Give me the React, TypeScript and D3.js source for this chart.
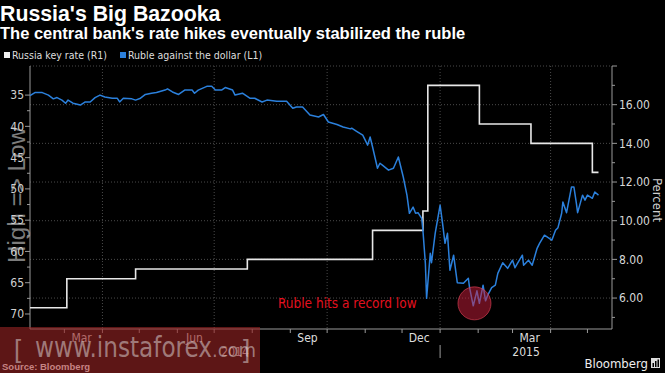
import React from 'react'
import * as d3 from 'd3'

// chart values
const rubleSeries: [string, number][] = [
  ['2014-02-01', 35.1], ['2014-02-05', 34.6], ['2014-02-11', 34.6], ['2014-02-16', 35.0],
  ['2014-02-20', 35.6], ['2014-02-23', 35.4], ['2014-02-27', 35.8], ['2014-03-02', 36.3],
  ['2014-03-04', 35.8], ['2014-03-08', 36.3], ['2014-03-14', 36.6], ['2014-03-18', 36.1],
  ['2014-03-22', 36.1], ['2014-03-26', 35.4], ['2014-03-30', 35.0], ['2014-04-03', 35.3],
  ['2014-04-09', 35.5], ['2014-04-13', 35.5], ['2014-04-15', 36.1], ['2014-04-18', 35.5],
  ['2014-04-25', 35.6], ['2014-04-28', 35.8], ['2014-05-02', 35.5], ['2014-05-06', 34.9],
  ['2014-05-11', 34.7], ['2014-05-15', 34.6], ['2014-05-22', 34.2], ['2014-05-24', 34.0],
  ['2014-05-28', 34.5], ['2014-06-02', 34.9], ['2014-06-07', 34.2], ['2014-06-13', 34.2],
  ['2014-06-15', 34.7], ['2014-06-18', 34.2], ['2014-06-25', 33.6], ['2014-06-29', 33.6],
  ['2014-07-02', 34.2], ['2014-07-07', 34.2], ['2014-07-10', 33.8], ['2014-07-16', 34.2],
  ['2014-07-18', 35.0], ['2014-07-24', 34.7], ['2014-07-30', 35.5], ['2014-08-03', 35.5],
  ['2014-08-09', 36.1], ['2014-08-13', 35.8], ['2014-08-21', 36.0], ['2014-08-29', 36.0],
  ['2014-09-03', 37.1], ['2014-09-06', 36.9], ['2014-09-11', 36.9], ['2014-09-17', 38.2],
  ['2014-09-24', 38.5], ['2014-09-28', 38.1], ['2014-10-02', 39.3], ['2014-10-09', 39.7],
  ['2014-10-14', 40.1], ['2014-10-20', 40.4], ['2014-10-21', 40.3], ['2014-10-25', 40.8],
  ['2014-10-30', 41.4], ['2014-11-03', 43.0], ['2014-11-05', 41.7], ['2014-11-07', 43.3],
  ['2014-11-11', 46.7], ['2014-11-13', 45.9], ['2014-11-15', 46.2], ['2014-11-20', 47.0],
  ['2014-11-24', 46.7], ['2014-11-28', 44.9], ['2014-12-02', 48.1], ['2014-12-05', 51.0],
  ['2014-12-07', 53.9], ['2014-12-10', 52.9], ['2014-12-12', 53.9], ['2014-12-14', 53.8],
  ['2014-12-17', 54.7], ['2014-12-18', 56.6], ['2014-12-20', 61.9], ['2014-12-21', 67.5],
  ['2014-12-24', 60.3], ['2014-12-25', 61.8], ['2014-12-28', 57.1], ['2015-01-01', 52.6],
  ['2015-01-03', 55.5], ['2015-01-05', 58.7], ['2015-01-07', 57.1], ['2015-01-09', 63.0],
  ['2015-01-12', 60.6], ['2015-01-15', 65.0], ['2015-01-20', 65.1], ['2015-01-24', 64.3],
  ['2015-01-25', 65.8], ['2015-01-28', 68.7], ['2015-01-31', 66.3], ['2015-02-02', 68.3],
  ['2015-02-05', 65.4], ['2015-02-07', 67.9], ['2015-02-09', 66.9], ['2015-02-12', 65.8],
  ['2015-02-15', 65.4], ['2015-02-17', 63.5], ['2015-02-21', 61.8], ['2015-02-25', 62.7],
  ['2015-03-01', 61.4], ['2015-03-03', 62.6], ['2015-03-05', 61.9], ['2015-03-09', 60.6],
  ['2015-03-10', 62.2], ['2015-03-14', 61.4], ['2015-03-17', 62.2], ['2015-03-21', 59.5],
  ['2015-03-23', 58.7], ['2015-03-27', 57.4], ['2015-03-30', 57.8], ['2015-04-02', 58.2],
  ['2015-04-05', 56.6], ['2015-04-07', 56.2], ['2015-04-10', 53.9], ['2015-04-11', 52.1],
  ['2015-04-14', 53.8], ['2015-04-18', 49.7], ['2015-04-20', 49.7], ['2015-04-22', 52.3],
  ['2015-04-23', 53.8], ['2015-04-27', 51.0], ['2015-04-29', 51.8], ['2015-05-01', 51.0],
  ['2015-05-05', 51.5], ['2015-05-07', 50.5], ['2015-05-10', 51.0],
]

const keyRateSeries: [string, number][] = [
  ['2014-02-01', 5.5], ['2014-03-03', 7.0], ['2014-04-28', 7.5], ['2014-07-28', 8.0],
  ['2014-11-07', 9.5], ['2014-12-18', 10.5], ['2014-12-22', 17.0], ['2015-02-02', 15.0],
  ['2015-03-16', 14.0], ['2015-05-05', 12.5], ['2015-05-10', 12.5],
]

const leftTicks = [35, 40, 45, 50, 55, 60, 65, 70]
const leftMinor = [37.5, 42.5, 47.5, 52.5, 57.5, 62.5, 67.5]
const rightTicks = [6, 8, 10, 12, 14, 16]
const rightMinor = [5, 7, 9, 11, 13, 15, 17]
const monthLabels: [string, string][] = [
  ['2014-03-15', 'Mar'], ['2014-06-15', 'Jun'], ['2014-09-15', 'Sep'],
  ['2014-12-15', 'Dec'], ['2015-03-15', 'Mar'],
]
const quarterLines = ['2014-04-01', '2014-07-01', '2014-10-01', '2015-01-01', '2015-04-01']

const NARROW = "'Liberation Sans Narrow', 'DejaVu Sans Condensed', 'Liberation Sans', sans-serif"
const SANS = "'Liberation Sans', Arial, sans-serif"

const W = 665
const H = 373
const left = 30
const right = 612
const top = 66
const bottom = 329

const parse = d3.timeParse('%Y-%m-%d')

export default function App() {
  const x = d3.scaleTime()
    .domain([parse('2014-02-01')!, parse('2015-05-21')!])
    .range([left, right])
  const yL = d3.scaleLinear().domain([30.35, 72.4]).range([top, bottom])
  const yR = d3.scaleLinear().domain([4.4, 18]).range([bottom, top])

  const rubleLine = d3.line<[string, number]>()
    .x(d => x(parse(d[0])!))
    .y(d => yL(d[1]))
  const rateLine = d3.line<[string, number]>()
    .curve(d3.curveStepAfter)
    .x(d => x(parse(d[0])!))
    .y(d => yR(d[1]))

  const months = d3.timeMonth.range(parse('2014-02-02')!, parse('2015-05-21')!)
  const yearSplit = x(parse('2015-01-01')!)

  const circleX = x(parse('2015-01-29')!)
  const circleY = yL(68.3)

  return (
    <svg width={W} height={H} style={{position: 'absolute', left: 0, top: 0, display: 'block'}}>
      <rect width={W} height={H} fill="#000" />

      {/* titles */}
      <text x={0} y={21} fill="#fff" fontFamily={SANS} fontWeight="bold" fontSize={21.3}>Russia's Big Bazooka</text>
      <text x={0} y={39} fill="#fff" fontFamily={SANS} fontWeight="bold" fontSize={16.5}>
        The central bank's rate hikes eventually stabilized the ruble
      </text>

      {/* legend */}
      <rect x={4} y={52} width={6} height={6} fill="#f0f0f0" />
      <text x={12} y={58.5} fill="#ddd" fontFamily={NARROW} fontSize={10.5}>Russia key rate (R1)</text>
      <rect x={120} y={52} width={6} height={6} fill="#2b80dc" />
      <text x={128} y={58.5} fill="#ddd" fontFamily={NARROW} fontSize={10.5}>Ruble against the dollar (L1)</text>

      {/* grid */}
      {[...rightTicks, 18].map(t => (
        <line key={'h' + t} x1={left} x2={right} y1={yR(t)} y2={yR(t)}
          stroke="#4a4a4a" strokeDasharray="1,2" />
      ))}
      {quarterLines.map(d => (
        <line key={'v' + d} x1={x(parse(d)!)} x2={x(parse(d)!)} y1={top} y2={bottom}
          stroke="#4a4a4a" strokeDasharray="1,2" />
      ))}

      {/* left axis title */}
      <text transform={`translate(25,195) rotate(-90)`} textAnchor="middle" fill="#7c7c7c"
        fontFamily={SANS} fontSize={23} textLength={136} lengthAdjust="spacingAndGlyphs">High =&gt; Low</text>

      {/* axes */}
      <g stroke="#9a9a9a">
        <line x1={left} x2={left} y1={top} y2={bottom} />
        <line x1={left} x2={right} y1={bottom} y2={bottom} />
        <line x1={right} x2={right} y1={top} y2={bottom} />
        <line x1={right} x2={right + 5} y1={top} y2={top} />
        {leftTicks.map(t => <line key={'lt' + t} x1={left - 5} x2={left} y1={yL(t)} y2={yL(t)} />)}
        {leftMinor.map(t => <line key={'lm' + t} x1={left - 3} x2={left} y1={yL(t)} y2={yL(t)} />)}
        {rightTicks.map(t => <line key={'rt' + t} x1={right} x2={right + 5} y1={yR(t)} y2={yR(t)} />)}
        {rightMinor.map(t => <line key={'rm' + t} x1={right} x2={right + 3} y1={yR(t)} y2={yR(t)} />)}
        {months.map(m => <line key={'m' + +m} x1={x(m)} x2={x(m)} y1={bottom} y2={bottom + 4} />)}
        <line x1={yearSplit} x2={yearSplit} y1={345} y2={358} />
      </g>

      {leftTicks.map(t => (
        <text key={'ll' + t} x={left - 6} y={yL(t)} dy="0.35em" textAnchor="end" fill="#d0d0d0"
          fontFamily={NARROW} fontSize={12}>{t}</text>
      ))}
      {rightTicks.map(t => (
        <text key={'rl' + t} x={right + 7} y={yR(t)} dy="0.35em" fill="#d8d8d8"
          fontFamily={NARROW} fontSize={12}>{t.toFixed(2)}</text>
      ))}
      <text transform={`translate(653,200) rotate(90)`} textAnchor="middle" fill="#cfcfcf"
        fontFamily={NARROW} fontSize={13}>Percent</text>

      {monthLabels.map(([d, l]) => (
        <text key={'ml' + d} x={x(parse(d)!)} y={342} textAnchor="middle" fill="#ddd"
          fontFamily={NARROW} fontSize={12}>{l}</text>
      ))}
      <text x={(left + yearSplit) / 2} y={356} textAnchor="middle" fill="#ddd" fontFamily={NARROW} fontSize={12}>2014</text>
      <text x={(yearSplit + right) / 2} y={356} textAnchor="middle" fill="#ddd" fontFamily={NARROW} fontSize={12}>2015</text>

      {/* series */}
      <path d={rateLine(keyRateSeries)!} fill="none" stroke="#e8e8e8" strokeWidth={1.6} />
      <path d={rubleLine(rubleSeries)!} fill="none" stroke="#2b80dc" strokeWidth={1.5} strokeLinejoin="round" />

      {/* annotation */}
      <circle cx={circleX} cy={circleY} r={16.5} fill="rgba(205,30,60,0.5)" stroke="rgba(230,70,90,0.6)" />
      <text x={278} y={308} fill="#e3101f" fontFamily={NARROW} fontSize={13.5}>Ruble hits a record low</text>

      {/* footer */}
      <text x={648} y={368} textAnchor="end" fill="#eee" fontFamily={NARROW} fontSize={13}>Bloomberg</text>
      <rect x={651} y={358} width={9} height={10} fill="#ddd" />
      <g fill="#000">
        <rect x={652.5} y={363} width={1.5} height={4} />
        <rect x={655} y={361} width={1.5} height={6} />
        <rect x={657.5} y={359.5} width={1.5} height={7.5} />
      </g>

      {/* watermark */}
      <rect x={0} y={327} width={260} height={46} fill="rgba(150,35,35,0.62)" />
      <text x={14} y={358} fill="rgba(205,190,190,0.6)" fontFamily={SANS} fontSize={26}>[</text>
      <text x={35} y={357} fill="rgba(205,190,190,0.6)" fontFamily={NARROW} fontSize={29}
        textLength={177} lengthAdjust="spacingAndGlyphs">www.instaforex</text>
      <text x={212} y={357} fill="rgba(205,190,190,0.6)" fontFamily={NARROW} fontSize={20}>.com</text>
      <text x={243} y={358} fill="rgba(205,190,190,0.6)" fontFamily={SANS} fontSize={26}>]</text>
      <text x={2} y={370} fill="rgba(235,170,170,0.75)" fontFamily={SANS} fontWeight="bold" fontSize={9.5}>Source: Bloomberg</text>
    </svg>
  )
}
